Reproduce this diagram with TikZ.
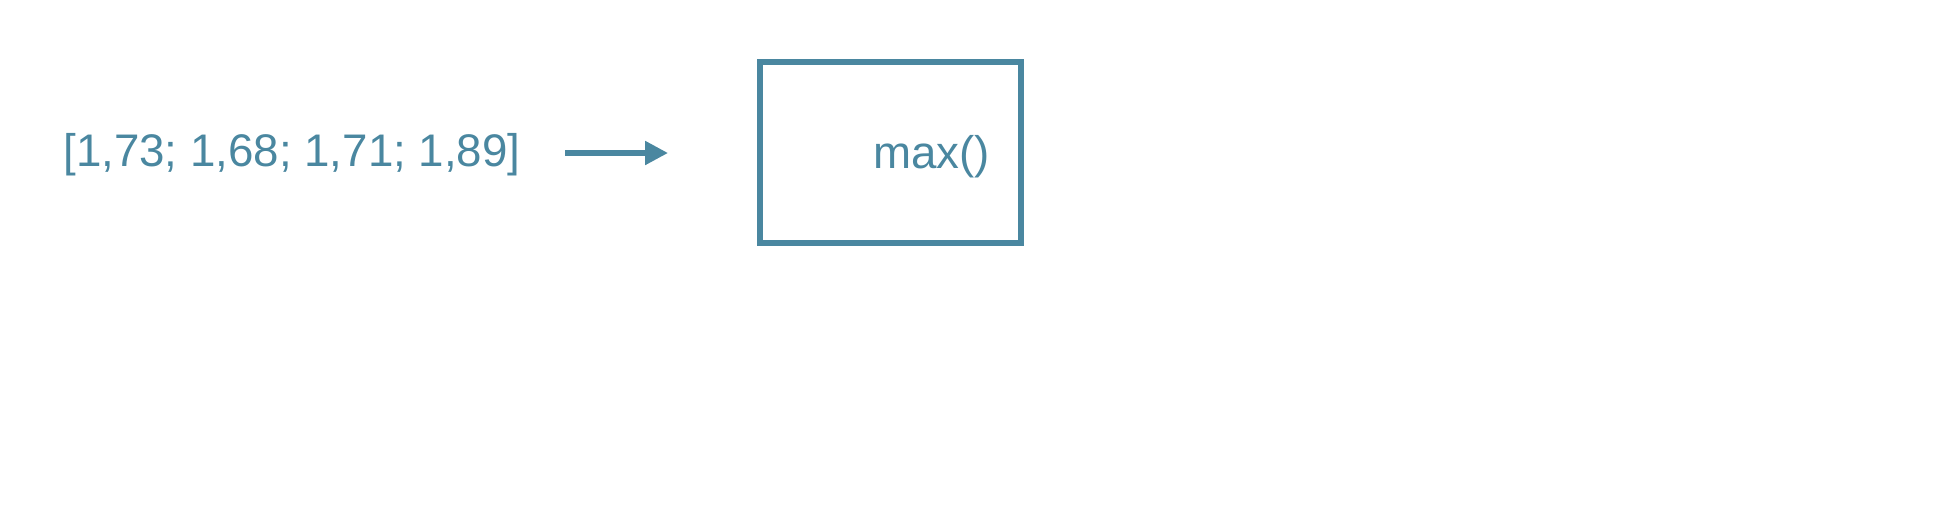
\documentclass[tikz,border=0pt]{standalone}
\usepackage{fontspec}
\setmainfont{Liberation Sans}
\usetikzlibrary{arrows.meta}
\definecolor{tc}{HTML}{4A87A0}
\begin{document}
\begin{tikzpicture}[x=0.02cm,y=-0.02cm,
  lbl/.style={text=tc,font=\fontsize{26}{30}\selectfont,inner sep=0pt},
  conn/.style={draw=tc,line width=3pt,-{Triangle[length=13pt,width=13pt]}}]
\useasboundingbox (0,0) rectangle (1945,528);
\node[lbl,anchor=west] (data) at (63,155) {[1,73; 1,68; 1,71; 1,89]};
\coordinate (s) at (565,153);
\coordinate (e) at (668,153);
\draw[conn] (s) -- (e);
\node[draw=tc,line width=3.5pt,minimum width=5.22cm,minimum height=3.62cm,inner sep=0pt] (box) at (890.5,152.5) {};
\node[lbl,anchor=west] (max) at (873,157) {max()};
\end{tikzpicture}
\end{document}
